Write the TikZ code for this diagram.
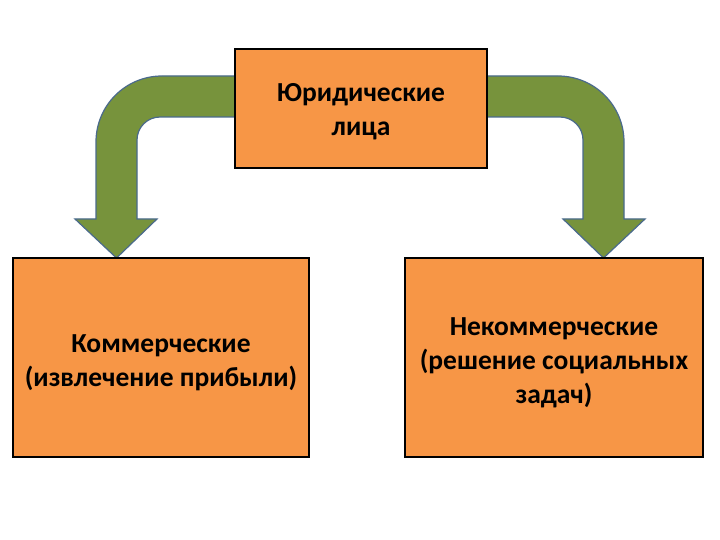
\documentclass[tikz,border=0pt]{standalone}
\usepackage{fontspec}
\setmainfont{Carlito}
\begin{document}
\begin{tikzpicture}[x=1pt,y=-1pt,
  box/.style={draw=black,line width=2pt,fill=boxorange,inner sep=0pt},
  boxtext/.style={align=center,font=\bfseries\fontsize{27.5}{34}\selectfont,inner sep=0pt},
  bentarrow/.style={fill=arrowgreen,draw=arrowedge,line width=1.2pt,line join=miter}]
\definecolor{boxorange}{HTML}{F79646}
\definecolor{arrowgreen}{HTML}{77933C}
\definecolor{arrowedge}{HTML}{4A6A8C}
\useasboundingbox (0,0) rectangle (720,540);
\fill[white] (0,0) rectangle (720,540);
% bent arrows (drawn first, under the top box)
\draw[bentarrow] (240,76) -- (162,76) .. controls (125.5,76) and (96,105.5) .. (96,142)
  -- (96,219) -- (75,219) -- (116.5,258) -- (157,219) -- (137,219) -- (137,140)
  .. controls (137,127.3) and (147.3,117) .. (160,117) -- (240,117) -- cycle;
\draw[bentarrow] (480,76) -- (558,76) .. controls (594.5,76) and (624,105.5) .. (624,142)
  -- (624,219) -- (645,219) -- (603.5,258) -- (563,219) -- (583,219) -- (583,140)
  .. controls (583,127.3) and (572.7,117) .. (560,117) -- (480,117) -- cycle;
% boxes
\node[box,minimum width=252pt,minimum height=119pt] (top) at (361,108.5) {};
\node[boxtext] (toptext) at ([yshift=-3pt]top.center) {Юридические\\лица};
\node[box,minimum width=296pt,minimum height=199pt] (comm) at (161,357.5) {};
\node[boxtext] (commtext) at ([yshift=-5pt]comm.center) {Коммерческие\\(извлечение прибыли)};
\node[box,minimum width=298pt,minimum height=199pt] (noncomm) at (554,357.5) {};
\node[boxtext] (noncommtext) at ([yshift=-5pt]noncomm.center) {Некоммерческие\\(решение социальных\\задач)};
\end{tikzpicture}
\end{document}
